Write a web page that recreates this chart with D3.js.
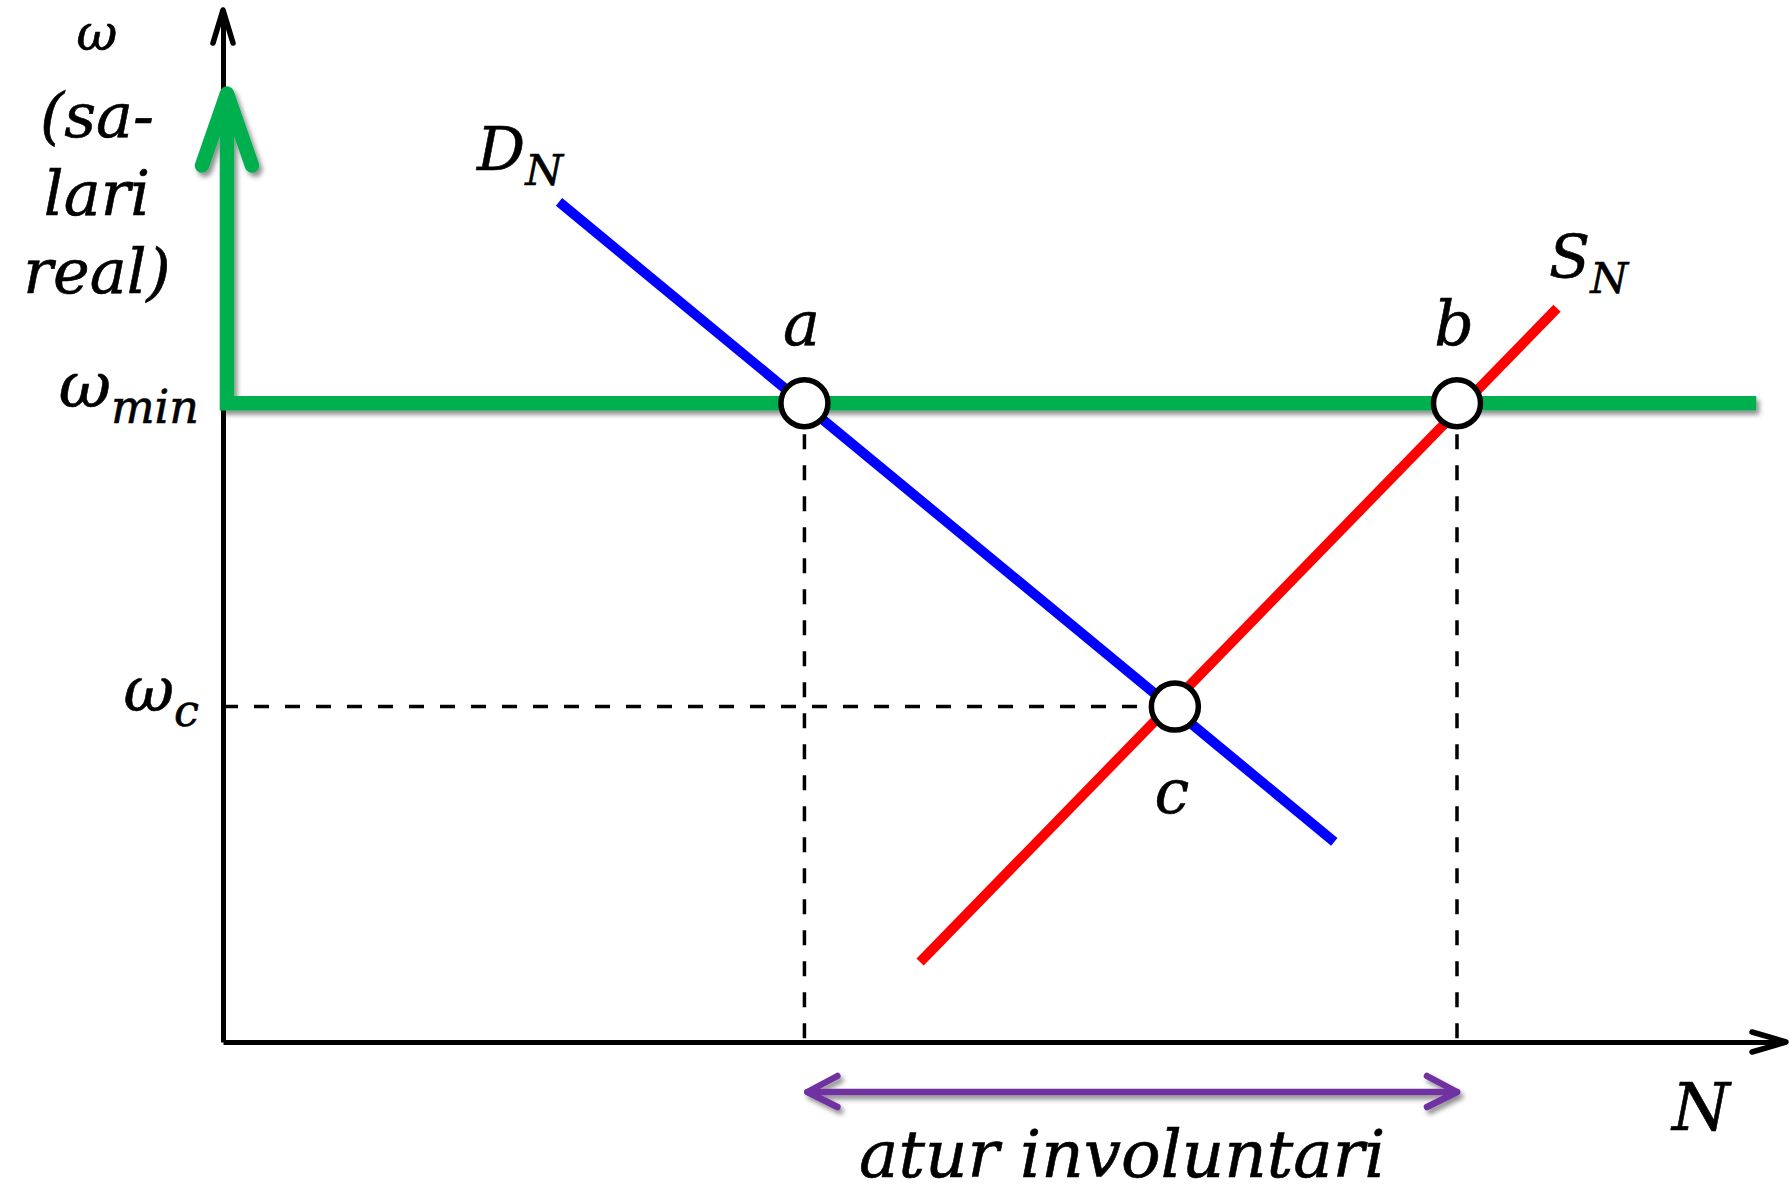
<!DOCTYPE html>
<html>
<head>
<meta charset="utf-8">
<script src="https://cdn.jsdelivr.net/npm/d3@7"></script>
<style>
  html, body { margin: 0; padding: 0; background: #fff; }
  svg { display: block; }
  text { font-family: "DejaVu Serif", serif; font-style: italic; fill: #000; stroke: #000; stroke-width: 0.6; }
</style>
</head>
<body>
<div id="chart"></div>
<script>
// labour market: N on x, real wage ω on y (arbitrary units 0-100)
const pointLabels = ["a", "b", "c"];
const pointN = [37.2, 78.95, 60.9];
const pointW = [61.9, 61.9, 32.5];
const demandN = [21.5, 71.1];
const demandW = [81.4, 19.4];
const supplyN = [44.6, 85.35];
const supplyW = [7.75, 71.1];
const minWage = 61.9;
const clearingWage = 32.5;
const floorEndN = 98.1;
const floorArrowW = 91.9;
const unemployment = [37.2, 78.95];
const yTitle = ["ω", "(sa-", "lari", "real)"];
const xTitle = "N";
const gapLabel = "atur involuntari";

const width = 1789;
const height = 1192;
const margin = { top: 10, right: 3, bottom: 150, left: 223 };

const svg = d3.select("#chart").append("svg").attr("width", width).attr("height", height);

const defs = svg.append("defs");
const shadow = defs.append("filter").attr("id", "shadow")
  .attr("x", "-5%").attr("y", "-50%").attr("width", "110%").attr("height", "200%");
shadow.append("feDropShadow")
  .attr("dx", 3).attr("dy", 4).attr("stdDeviation", 2.5)
  .attr("flood-color", "#000").attr("flood-opacity", 0.45);

const x = d3.scaleLinear().domain([0, 100]).range([margin.left, width - margin.right]);
const y = d3.scaleLinear().domain([0, 100]).range([height - margin.bottom, margin.top]);
const line = d3.line().x((d) => x(d[0])).y((d) => y(d[1]));

// axes
svg.append("g").attr("transform", `translate(0,${y(0)})`)
  .call(d3.axisBottom(x).tickValues([]).tickSizeOuter(0));
svg.append("g").attr("transform", `translate(${x(0)},0)`)
  .call(d3.axisLeft(y).tickValues([]).tickSizeOuter(0));
svg.selectAll(".domain").attr("stroke", "#000").attr("stroke-width", 5);

const arrowX = x(100), arrowY = y(100);
svg.append("path")
  .attr("d", `M${arrowX - 34},${y(0) - 10}L${arrowX},${y(0)}L${arrowX - 34},${y(0) + 10}`)
  .attr("fill", "none").attr("stroke", "#000").attr("stroke-width", 5.5)
  .attr("stroke-linecap", "round").attr("stroke-linejoin", "round");
svg.append("path")
  .attr("d", `M${x(0) - 10},${arrowY + 33}L${x(0)},${arrowY}L${x(0) + 10},${arrowY + 33}`)
  .attr("fill", "none").attr("stroke", "#000").attr("stroke-width", 5.5)
  .attr("stroke-linecap", "round").attr("stroke-linejoin", "round");

// dashed guides
const guides = svg.append("g").attr("stroke", "#000").attr("stroke-width", 3.5)
  .attr("stroke-dasharray", "15,16").attr("fill", "none");
[0, 1].forEach((i) => {
  guides.append("path").attr("d", line([[pointN[i], pointW[i]], [pointN[i], 0]]));
});
guides.append("path").attr("d", line([[0, clearingWage], [pointN[2], clearingWage]]));

// demand and supply
svg.append("path").attr("d", line(d3.zip(demandN, demandW)))
  .attr("stroke", "#0000ff").attr("stroke-width", 10).attr("fill", "none");
svg.append("path").attr("d", line(d3.zip(supplyN, supplyW)))
  .attr("stroke", "#ff0000").attr("stroke-width", 10).attr("fill", "none");

// minimum wage floor
const gx = x(0) + 4;
const floor = svg.append("g").attr("filter", "url(#shadow)")
  .attr("stroke", "#00b050").attr("stroke-width", 14.5).attr("fill", "none");
floor.append("path")
  .attr("d", `M${gx},${y(floorArrowW)}L${gx},${y(minWage)}L${x(floorEndN)},${y(minWage)}`)
  .attr("stroke-linejoin", "miter");
floor.append("path")
  .attr("d", `M${gx - 25},${y(floorArrowW) + 72}L${gx},${y(floorArrowW)}L${gx + 25},${y(floorArrowW) + 72}`)
  .attr("stroke-linecap", "round").attr("stroke-linejoin", "round");

// equilibrium points
svg.append("g").selectAll("circle")
  .data(pointLabels)
  .join("circle")
  .attr("cx", (d, i) => x(pointN[i]))
  .attr("cy", (d, i) => y(pointW[i]))
  .attr("r", 23.5)
  .attr("fill", "#fff").attr("stroke", "#000").attr("stroke-width", 5.5);

svg.append("g").selectAll("text")
  .data(pointLabels)
  .join("text")
  .attr("x", (d, i) => x(pointN[i]) - 3)
  .attr("y", (d, i) => y(pointW[i]) + (d === "c" ? 106 : -58))
  .attr("text-anchor", "middle")
  .attr("font-size", 62)
  .text((d) => d);

// involuntary unemployment span
const uy = y(0) + 50;
const span = svg.append("g").attr("filter", "url(#shadow)")
  .attr("stroke", "#7030a0").attr("stroke-width", 6.5).attr("fill", "none")
  .attr("stroke-linecap", "round").attr("stroke-linejoin", "round");
const u0 = x(unemployment[0]) + 3, u1 = x(unemployment[1]);
span.append("path").attr("d", `M${u0},${uy}L${u1},${uy}`);
span.append("path").attr("d", `M${u0 + 30},${uy - 16}L${u0},${uy}L${u0 + 30},${uy + 15}`);
span.append("path").attr("d", `M${u1 - 30},${uy - 16}L${u1},${uy}L${u1 - 30},${uy + 15}`);

svg.append("text")
  .attr("x", (u0 + u1) / 2 - 10).attr("y", uy + 85)
  .attr("text-anchor", "middle").attr("font-size", 66)
  .text(gapLabel);

// curve labels
function subLabel(px, py, main, sub, size, anchor) {
  const t = svg.append("text").attr("x", px).attr("y", py)
    .attr("font-size", size).attr("text-anchor", anchor || "start");
  t.append("tspan").text(main);
  t.append("tspan").attr("dy", size * 0.25).attr("font-size", size * 0.72).text(sub);
  return t;
}
subLabel(x(demandN[0]) - 82, y(demandW[0]) - 32, "D", "N", 60);
subLabel(x(supplyN[1]) - 8, y(supplyW[1]) - 30, "S", "N", 60);
subLabel(x(0) - 24, y(minWage) + 4, "ω", "min", 64, "end");
subLabel(x(0) - 24, y(clearingWage) + 4, "ω", "c", 62, "end");

svg.append("text")
  .attr("x", x(100) - 114).attr("y", y(0) + 88)
  .attr("font-size", 66).text(xTitle);

svg.append("g").selectAll("text")
  .data(yTitle)
  .join("text")
  .attr("x", 97)
  .attr("y", (d, i) => (i === 0 ? 50 : 137 + (i - 1) * 78))
  .attr("text-anchor", "middle")
  .attr("font-size", (d, i) => (i === 0 ? 50 : 62))
  .text((d) => d);
</script>
</body>
</html>
